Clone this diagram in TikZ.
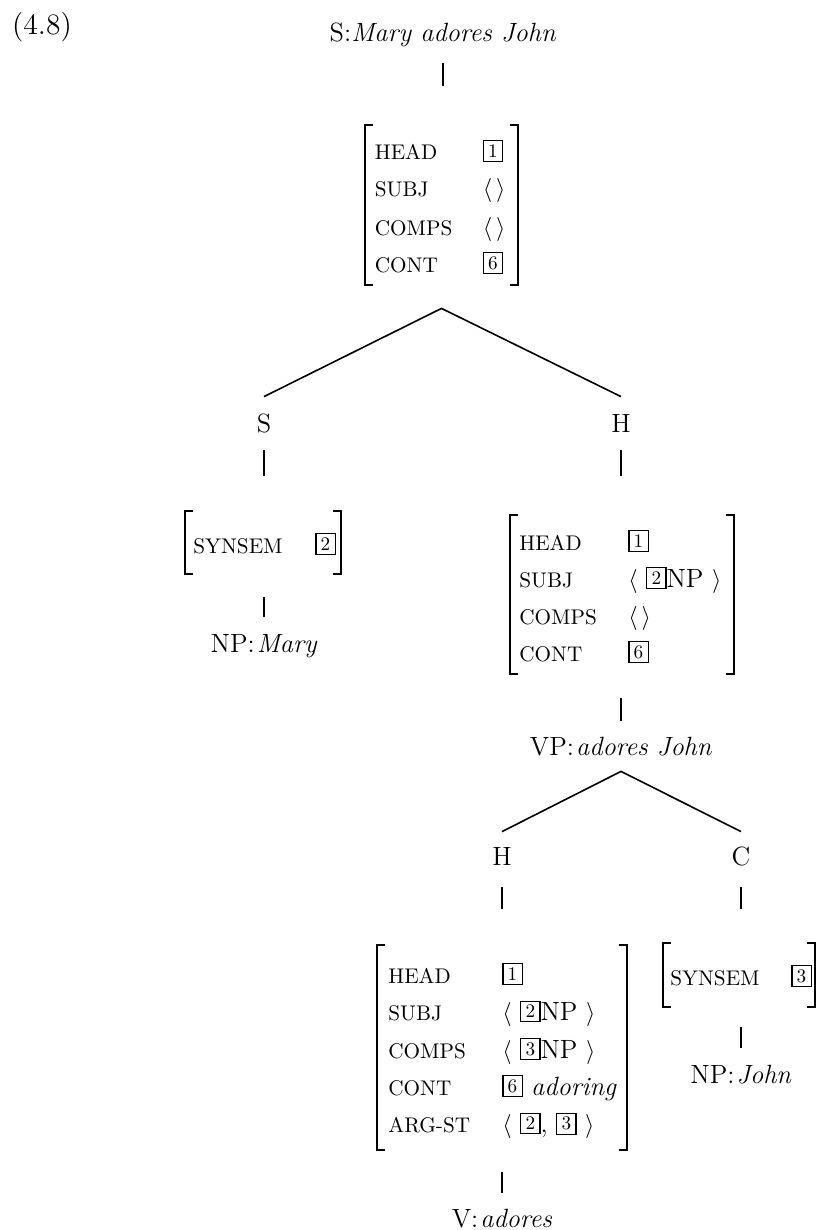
\documentclass[tikz,border=0pt]{standalone}
\usepackage{graphicx}

% boxed structure-sharing tag
\newcommand\tg[1]{\raisebox{1.3pt}{\fontsize{9.6}{11}\selectfont\setlength{\fboxsep}{1.7pt}\setlength{\fboxrule}{0.55pt}\fbox{\makebox[5.6pt]{#1}}}}
% attribute name, set in small capitals
\newcommand\attr[1]{{\fontsize{10.6}{12}\selectfont #1}}
% square brackets round an attribute-value matrix
\newcommand\avmbrackets[1]{%
  \draw[brk] ([xshift=4pt]#1.north west) -- (#1.north west) -- (#1.south west) -- ([xshift=4pt]#1.south west);
  \draw[brk] ([xshift=-4pt]#1.north east) -- (#1.north east) -- (#1.south east) -- ([xshift=-4pt]#1.south east);}

\begin{document}
\begin{tikzpicture}[x=0.5pt,y=-0.5pt,
  lbl/.style={inner sep=0pt, anchor=base, text height=9pt, text depth=2.6pt, font=\fontsize{13.2}{16}\selectfont},
  ftr/.style={inner sep=0pt, anchor=base west, font=\fontsize{13.2}{16}\selectfont},
  avmframe/.style={inner sep=0pt, draw=none, rectangle},
  edge/.style={line width=0.8pt},
  brk/.style={line width=0.95pt, line cap=butt, line join=miter},
]
\fill[white] (0,0) rectangle (818,1230);
\useasboundingbox (0,0) rectangle (818,1230);

% example number
\node[lbl, font=\fontsize{14.8}{17}\selectfont] (num) at (42,35) {(4.8)};

% ---------- root ----------
\node[lbl] (root) at (443,42) {S:\textit{Mary adores John}};
\node[avmframe, minimum width=76.5pt, minimum height=80pt] (avm1) at (441.5,205) {};
\avmbrackets{avm1}
\node[ftr] (a1f1) at (374.5,160) {\attr{HEAD}};
\node[ftr] (a1f2) at (374.5,197) {\attr{SUBJ}};
\node[ftr] (a1f3) at (374.5,235) {\attr{COMPS}};
\node[ftr] (a1f4) at (374.5,272) {\attr{CONT}};
\node[ftr] (a1v1) at (482.5,160) {\tg{1}};
\node[ftr] (a1v2) at (482.5,197) {$\langle\,\rangle$};
\node[ftr] (a1v3) at (482.5,235) {$\langle\,\rangle$};
\node[ftr] (a1v4) at (482.5,272) {\tg{6}};

% ---------- subject and head daughters ----------
\node[lbl] (sdtr) at (264,432) {S};
\node[lbl] (hdtr) at (621,432) {H};

\node[avmframe, minimum width=78pt, minimum height=31.5pt] (synL) at (263,542.5) {};
\avmbrackets{synL}
\node[ftr] (synLf) at (193,553) {\attr{SYNSEM}};
\node[ftr] (synLv) at (315,553) {\tg{2}};
\node[lbl] (npm) at (264,652) {NP:\kern1pt\textit{Mary}};

\node[avmframe, minimum width=112pt, minimum height=79.5pt] (avmH) at (622,594.5) {};
\avmbrackets{avmH}
\node[ftr] (aHf1) at (519,550) {\attr{HEAD}};
\node[ftr] (aHf2) at (519,587) {\attr{SUBJ}};
\node[ftr] (aHf3) at (519,624) {\attr{COMPS}};
\node[ftr] (aHf4) at (519,661) {\attr{CONT}};
\node[ftr] (aHv1) at (628,550) {\tg{1}};
\node[ftr] (aHv2) at (628,587) {$\langle$ \tg{2}NP $\rangle$};
\node[ftr] (aHv3) at (628,624) {$\langle\,\rangle$};
\node[ftr] (aHv4) at (628,661) {\tg{6}};
\node[lbl] (vp) at (621,755) {VP:\kern1pt\textit{adores John}};

% ---------- head and complement daughters of VP ----------
\node[lbl] (hd2) at (502,865) {H};
\node[lbl] (cmp) at (741,865) {C};

\node[avmframe, minimum width=125pt, minimum height=102.5pt] (avmV) at (502,1047.5) {};
\avmbrackets{avmV}
\node[ftr] (aVf1) at (388,983) {\attr{HEAD}};
\node[ftr] (aVf2) at (388,1020.5) {\attr{SUBJ}};
\node[ftr] (aVf3) at (388,1058) {\attr{COMPS}};
\node[ftr] (aVf4) at (388,1095) {\attr{CONT}};
\node[ftr] (aVf5) at (388,1132.5) {\attr{ARG-ST}};
\node[ftr] (aVv1) at (502,983) {\tg{1}};
\node[ftr] (aVv2) at (502,1020.5) {$\langle$ \tg{2}NP $\rangle$};
\node[ftr] (aVv3) at (502,1058) {$\langle$ \tg{3}NP $\rangle$};
\node[ftr] (aVv4) at (502,1095) {\tg{6} \textit{adoring}};
\node[ftr] (aVv5) at (502,1132.5) {$\langle$ \tg{2}, \tg{3} $\rangle$};
\node[lbl] (vlex) at (502,1227) {V:\kern1pt\textit{adores}};

\node[avmframe, minimum width=76pt, minimum height=32pt] (synR) at (739,975) {};
\avmbrackets{synR}
\node[ftr] (synRf) at (670,985) {\attr{SYNSEM}};
\node[ftr] (synRv) at (791,985) {\tg{3}};
\node[lbl] (npj) at (741,1083) {NP:\kern1pt\textit{John}};

% ---------- tree lines ----------
\draw[edge, shorten <=7.9pt, shorten >=19.5pt] (root.south) -- (root.south |- avm1.north);

\coordinate (ap1) at ([yshift=-11.5pt]avm1.south);
\coordinate (b1l) at ([yshift=8.5pt]sdtr.north);
\coordinate (b1r) at ([yshift=8.5pt]hdtr.north);
\draw[edge] (b1l) -- (ap1) -- (b1r);

\draw[edge, shorten <=6.4pt, shorten >=17.5pt] (sdtr.south) -- (sdtr.south |- synL.north);
\draw[edge, shorten <=6.4pt, shorten >=19.5pt] (hdtr.south) -- (hdtr.south |- avmH.north);
\draw[edge, shorten <=11.5pt, shorten >=8.5pt] (npm.north |- synL.south) -- (npm.north);
\draw[edge, shorten <=12pt, shorten >=8pt] (vp.north |- avmH.south) -- (vp.north);

\coordinate (ap2) at ([yshift=-5.4pt]vp.south);
\coordinate (b2l) at ([yshift=7.5pt]hd2.north);
\coordinate (b2r) at ([yshift=7.5pt]cmp.north);
\draw[edge] (b2l) -- (ap2) -- (b2r);

\draw[edge, shorten <=8.4pt, shorten >=18pt] (hd2.south) -- (hd2.south |- avmV.north);
\draw[edge, shorten <=8.4pt, shorten >=17pt] (cmp.south) -- (cmp.south |- synR.north);
\draw[edge, shorten <=10pt, shorten >=8.5pt] (npj.north |- synR.south) -- (npj.north);
\draw[edge, shorten <=11pt, shorten >=8pt] (vlex.north |- avmV.south) -- (vlex.north);
\end{tikzpicture}
\end{document}
